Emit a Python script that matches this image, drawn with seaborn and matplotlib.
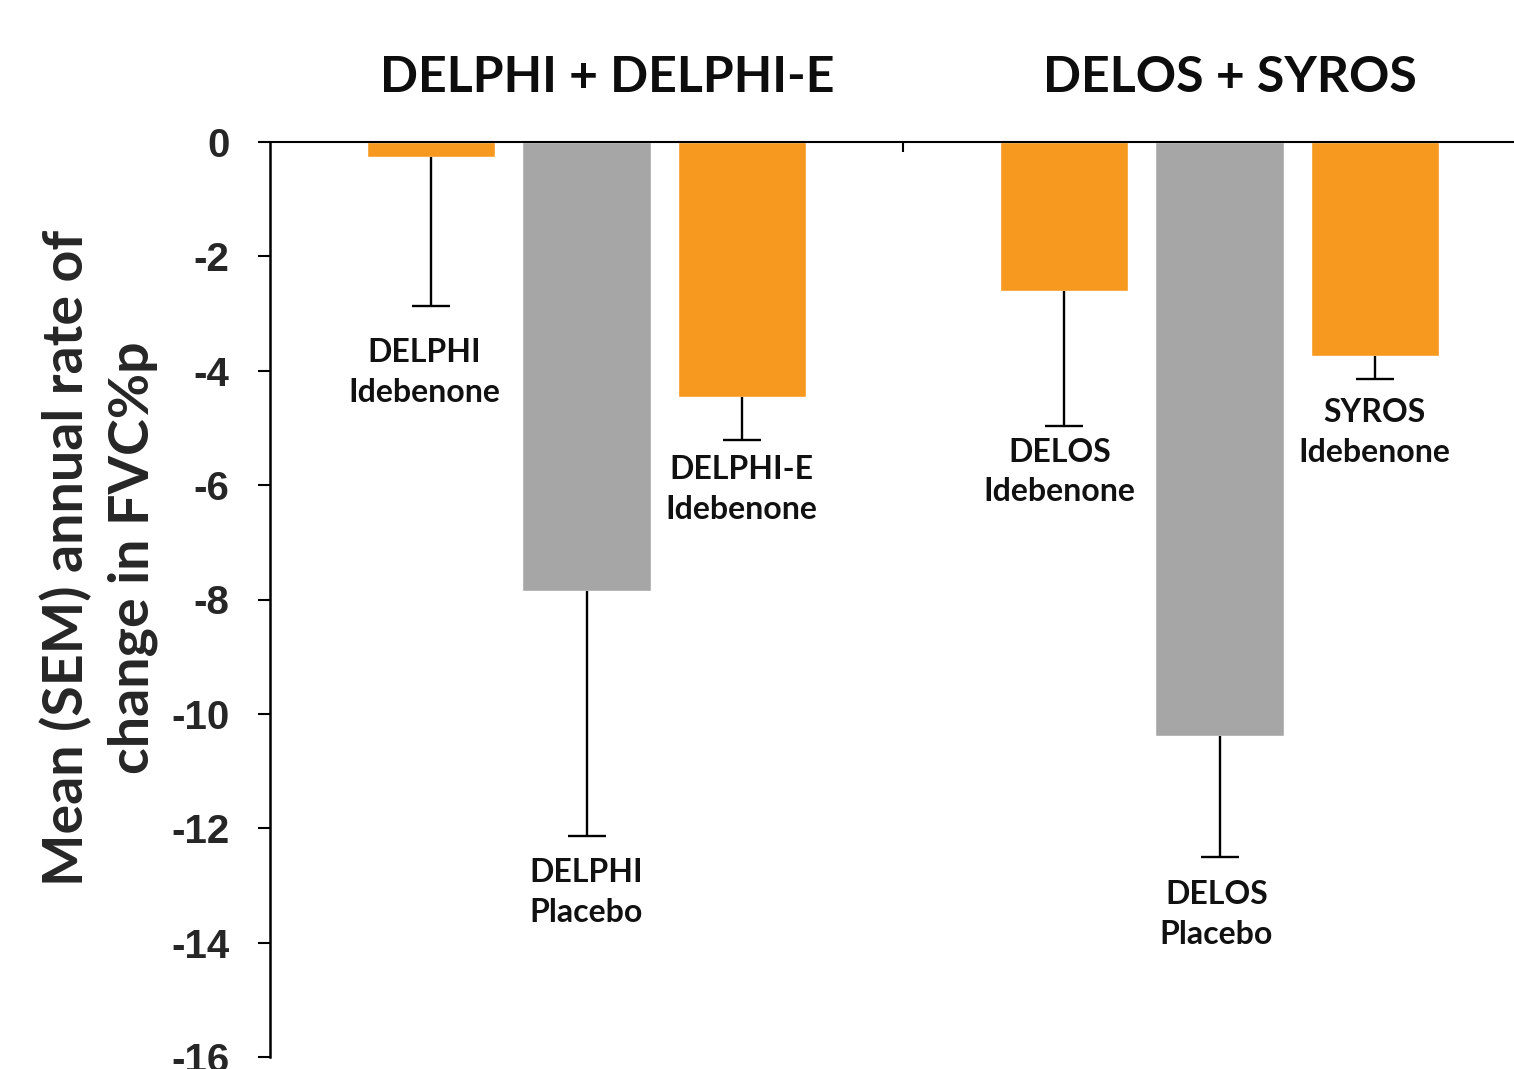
import numpy as np
import pandas as pd
import matplotlib
matplotlib.use("Agg")
import matplotlib.pyplot as plt
import seaborn as sns

# data
groups = ["DELPHI + DELPHI-E"] * 3 + ["DELOS + SYROS"] * 3
slots = ["left", "middle", "right"] * 2
bar_labels = ["DELPHI\nIdebenone", "DELPHI\nPlacebo", "DELPHI-E\nIdebenone",
              "DELOS\nIdebenone", "DELOS\nPlacebo", "SYROS\nIdebenone"]
means = [-0.27, -7.86, -4.46, -2.60, -10.39, -3.74]
sems = [2.60, 4.28, 0.75, 2.36, 2.11, 0.40]
y_ticks = [0, -2, -4, -6, -8, -10, -12, -14, -16]

# where the bar names sit (top of text in axis units, small x nudges)
label_tops = [-3.43, -12.52, -5.47, -5.17, -12.90, -4.48]
label_dx = [-0.011, 0, 0, -0.008, -0.005, 0]

orange = "#F7991F"
grey = "#A6A6A6"
slot_colors = {"left": orange, "middle": grey, "right": orange}

df = pd.DataFrame({"group": groups, "slot": slots, "mean": means})

sns.set_style("white")
plt.rcParams["font.family"] = ["Lato", "DejaVu Sans"]
plt.rcParams["axes.unicode_minus"] = False

W, H = 1514, 1069
fig = plt.figure(figsize=(W / 100, H / 100), dpi=100)
ax = fig.add_axes([270 / W, 12 / H, 1266 / W, 915 / H])

sns.barplot(data=df, x="group", y="mean", hue="slot", hue_order=["left", "middle", "right"],
            palette=slot_colors, width=0.735, gap=0.174, errorbar=None, legend=False,
            saturation=1, ax=ax)

# bar centres, left to right, match the data order
bars = sorted(ax.patches, key=lambda p: p.get_x())
centres = [p.get_x() + p.get_width() / 2 for p in bars]

# one-sided SEM whiskers going down
_, caps, _ = ax.errorbar(centres, means, yerr=[sems, np.zeros(len(sems))], fmt="none",
                         ecolor="black", elinewidth=1.7, capsize=14, capthick=1.7, zorder=3)
for c in caps:
    if np.allclose(c.get_ydata(), means):
        c.set_visible(False)

for x, dx, top, txt in zip(centres, label_dx, label_tops, bar_labels):
    ax.text(x + dx, top, txt, ha="center", va="top", fontsize=23, fontweight="bold",
            linespacing=1.45, color="#111111")

ax.set_ylim(-16, 0)
ax.set_xlim(-0.5, 1.5)
ax.set_yticks(y_ticks)
ax.set_yticklabels([str(t) for t in y_ticks], fontsize=29, fontweight="bold",
                   family="Liberation Sans")
ax.tick_params(axis="y", direction="out", length=9, width=1.5, pad=20, color="black", left=True)
ax.set_xticks([0.5])
ax.set_xticklabels([])
ax.tick_params(axis="x", top=True, bottom=False, direction="in", length=7, width=1.5,
               color="black")
ax.set_xlabel("")
ax.set_ylabel("")

for s in ["bottom", "right"]:
    ax.spines[s].set_visible(False)
ax.spines["left"].set_linewidth(1.8)
ax.spines["left"].set_color("black")
ax.spines["top"].set_linewidth(1.5)
ax.spines["top"].set_color("black")

fig.text(607 / W, 1 - 77 / H, "DELPHI + DELPHI-E", ha="center", va="center",
         fontsize=36, fontweight="bold", color="#0d0d0d")
fig.text(1230 / W, 1 - 77 / H, "DELOS + SYROS", ha="center", va="center",
         fontsize=36, fontweight="bold", color="#0d0d0d")
fig.text(99 / W, 1 - 558 / H, "Mean (SEM) annual rate of\nchange in FVC%p", rotation=90,
         ha="center", va="center", multialignment="center", fontsize=40,
         fontweight="bold", linespacing=1.38)

fig.savefig("out.png", dpi=100)
